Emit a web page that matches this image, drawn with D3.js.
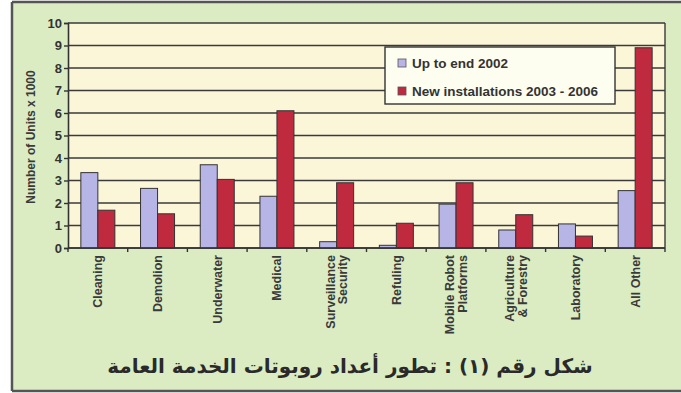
<!DOCTYPE html>
<html><head><meta charset="utf-8">
<script src="https://cdn.jsdelivr.net/npm/d3@7"></script>
<style>
html,body{margin:0;padding:0;background:#fff;}
svg{display:block;}
</style></head>
<body>
<script>
const categories = [["Cleaning"],["Demolion"],["Underwater"],["Medical"],["Surveillance","Security"],["Refuling"],["Mobile Robot","Platforms"],["Agriculture","& Forestry"],["Laboratory"],["All Other"]];
const upTo2002 = [3.35, 2.65, 3.7, 2.3, 0.28, 0.12, 1.95, 0.8, 1.07, 2.55];
const new2003_2006 = [1.68, 1.52, 3.05, 6.1, 2.9, 1.1, 2.9, 1.48, 0.53, 8.9];
const seriesNames = ["Up to end 2002", "New installations 2003 - 2006"];
const yTicks = [0,1,2,3,4,5,6,7,8,9,10];
const yLabel = "Number of Units x 1000";
const caption = "شكل رقم (١) : تطور أعداد روبوتات الخدمة العامة";

const W = 681, H = 393;
const colors = ["#b7b5e6", "#c02a3e"];
const FONT = "Liberation Sans, Arial, sans-serif";
const svg = d3.select("body").append("svg").attr("width", W).attr("height", H);

// background panel
svg.append("rect").attr("x",12).attr("y",2).attr("width",W-12).attr("height",389).attr("fill","#dbecc3");
svg.append("line").attr("x1",12).attr("x2",12).attr("y1",2).attr("y2",391).attr("stroke","#555").attr("stroke-width",2.5);
svg.append("line").attr("x1",12).attr("x2",W).attr("y1",2).attr("y2",2).attr("stroke","#555").attr("stroke-width",2.5);
svg.append("line").attr("x1",12).attr("x2",W).attr("y1",391).attr("y2",391).attr("stroke","#555").attr("stroke-width",2.5);

const m = {l:68, r:665, t:23, b:248};
const x = d3.scaleBand().domain(d3.range(categories.length)).range([m.l, m.r]);
const y = d3.scaleLinear().domain([0,10]).range([m.b, m.t]);

svg.append("rect").attr("x",m.l).attr("y",m.t).attr("width",m.r-m.l).attr("height",m.b-m.t).attr("fill","#fcf6d8");

// grid
svg.append("g").selectAll("line").data(yTicks).join("line")
  .attr("x1",m.l).attr("x2",m.r).attr("y1",d=>y(d)).attr("y2",d=>y(d))
  .attr("stroke","#3a3a3a").attr("stroke-width",1.4);
svg.append("line").attr("x1",m.r).attr("x2",m.r).attr("y1",m.t).attr("y2",m.b).attr("stroke","#3a3a3a").attr("stroke-width",1.4);

// bars
const bw = 17;
const g = svg.append("g");
[upTo2002, new2003_2006].forEach((vals, si) => {
  g.selectAll(null).data(vals).join("rect")
    .attr("x", (d,i) => x(i) + x.bandwidth()/2 - bw + si*bw)
    .attr("y", d => y(d))
    .attr("width", bw)
    .attr("height", d => y(0) - y(d))
    .attr("fill", colors[si])
    .attr("stroke", "#333").attr("stroke-width", 1);
});

// y axis
const yAxis = d3.axisLeft(y).tickValues(yTicks).tickSize(4).tickPadding(2);
const ya = svg.append("g").attr("transform",`translate(${m.l},0)`).call(yAxis);
ya.select(".domain").attr("stroke","#333").attr("stroke-width",1.6);
ya.selectAll(".tick line").attr("stroke","#333").attr("stroke-width",1.4);
ya.selectAll("text").attr("font-family",FONT).attr("font-weight","bold").attr("font-size",13).attr("fill","#333");

// x axis
const xa = svg.append("g").attr("transform",`translate(0,${m.b})`);
xa.append("line").attr("x1",m.l).attr("x2",m.r).attr("stroke","#333").attr("stroke-width",1.6);
xa.selectAll("line.t").data(d3.range(categories.length+1)).join("line").attr("class","t")
  .attr("x1",i=>m.l + i*x.step()).attr("x2",i=>m.l + i*x.step()).attr("y1",0).attr("y2",4)
  .attr("stroke","#333").attr("stroke-width",1.4);
categories.forEach((lines, i) => {
  const cx = x(i) + x.bandwidth()/2 + 4.5;
  const t = svg.append("text")
    .attr("transform", `translate(${cx},${m.b+7}) rotate(-90)`)
    .attr("text-anchor","end")
    .attr("font-family",FONT).attr("font-weight","bold").attr("font-size",12.5).attr("fill","#3a3a3a");
  const n = lines.length;
  lines.forEach((ln, k) => {
    t.append("tspan").attr("x",0).attr("y", (k - (n-1)/2) * 12.5).text(ln);
  });
});

// y label
svg.append("text").attr("transform","translate(35,137) rotate(-90)").attr("text-anchor","middle")
  .attr("font-family",FONT).attr("font-weight","bold").attr("font-size",12).attr("fill","#3a3a3a")
  .text(yLabel);

// legend
const lg = svg.append("g");
lg.append("rect").attr("x",385).attr("y",47).attr("width",230).attr("height",57).attr("fill","#fdfdf0").attr("stroke","#333").attr("stroke-width",1.4);
seriesNames.forEach((s, i) => {
  const yy = 63 + i*28;
  lg.append("rect").attr("x",398).attr("y",yy-4).attr("width",8).attr("height",8).attr("fill",colors[i]).attr("stroke","#555").attr("stroke-width",0.8);
  lg.append("text").attr("x",412).attr("y",yy+5).attr("font-family",FONT).attr("font-weight","bold").attr("font-size",13.5).attr("fill","#333").text(s);
});

// caption
svg.append("text").attr("x",350).attr("y",373).attr("text-anchor","middle").attr("direction","rtl")
  .attr("font-family","DejaVu Sans, sans-serif").attr("font-weight","bold").attr("font-size",20).attr("fill","#2a2a2a")
  .text(caption);
</script>
</body></html>
